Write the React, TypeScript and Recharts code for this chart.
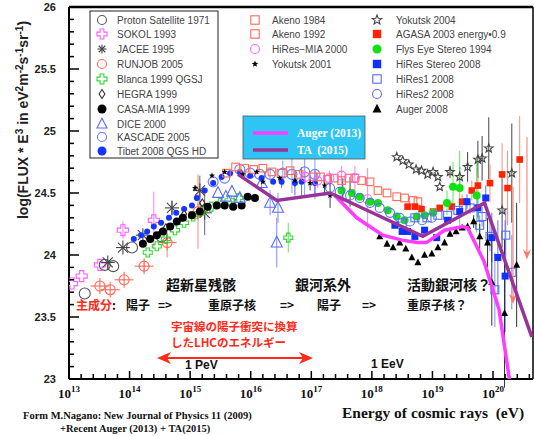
import React from 'react'
import { ScatterChart, Scatter, XAxis, YAxis, ErrorBar, ReferenceLine } from 'recharts'

// [log10(E/eV), log10(flux*E^3), error]
type P = [number, number, number?]

const decades = [13, 14, 15, 16, 17, 18, 19, 20]
const minorSteps = [0, 0.2, 0.4, 0.6, 0.8]
const yLabels = [23, 23.5, 24, 24.5, 25, 25.5, 26]

const protonSat: P[] = [[13.26, 23.69], [13.59, 23.92], [13.73, 23.91], [14.04, 24.06], [14.53, 24.15]]
const sokol: P[] = [[13.05, 23.77], [13.21, 23.83], [13.51, 23.92, 0.03], [13.89, 24.2, 0.07], [14.4, 24.28, 0.23]]
const jacee: P[] = [[13.64, 23.94], [13.89, 24.06], [14.22, 24.16], [14.7, 24.38, 0.06], [15.16, 24.52, 0.12], [15.24, 24.34, 0.18]]
const runjob: P[] = [[13.51, 23.75], [13.68, 23.72], [13.91, 23.8], [14.24, 23.91, 0.04], [14.62, 24.1, 0.12], [15.13, 24.35, 0.3]]
const blanca: P[] = [
  [14.3, 24.02], [14.45, 24.07], [14.6, 24.13], [14.75, 24.2], [14.9, 24.26], [15.05, 24.31],
  [15.2, 24.36], [15.35, 24.39], [15.5, 24.42], [15.65, 24.44], [15.8, 24.46], [16.62, 24.14, 0.12],
]
const hegra: P[] = [[14.6, 24.22], [14.9, 24.33], [15.2, 24.42]]
const casaMia: P[] = [
  [14.22, 24.09], [14.34, 24.13], [14.45, 24.16], [14.55, 24.19], [14.67, 24.23], [14.78, 24.27],
  [14.88, 24.3], [15.03, 24.32], [15.16, 24.35], [15.29, 24.39], [15.44, 24.4], [15.57, 24.4],
  [15.71, 24.39], [15.85, 24.4], [15.95, 24.47], [16.07, 24.46],
]
const dice: P[] = [
  [15.46, 24.5], [15.59, 24.47], [15.69, 24.51], [15.82, 24.46], [16.18, 24.58, 0.05],
  [16.32, 24.42, 0.1], [16.45, 24.38, 0.12], [16.43, 24.1, 0.2],
]
const kascade: P[] = [
  [15.38, 24.59], [15.57, 24.62], [15.82, 24.69], [15.99, 24.66], [16.15, 24.65], [16.32, 24.65, 0.05],
  [16.53, 24.66, 0.1], [16.68, 24.65, 0.15], [16.89, 24.67, 0.2], [17.06, 24.65, 0.2],
]
const tibet: P[] = [
  [14.07, 24.13], [14.19, 24.16], [14.29, 24.19], [14.4, 24.23], [14.52, 24.26], [14.65, 24.3],
  [14.77, 24.34], [14.9, 24.37], [15.03, 24.4], [15.11, 24.46], [15.24, 24.52], [15.38, 24.58],
  [15.52, 24.63], [15.66, 24.66], [15.82, 24.67], [15.99, 24.64], [16.18, 24.62], [16.37, 24.59],
  [16.51, 24.59, 0.05], [16.73, 24.58, 0.1], [16.84, 24.59, 0.12], [17.06, 24.58, 0.1],
]
const akeno84: P[] = [
  [15.6, 24.66], [15.75, 24.71], [15.9, 24.7], [16.05, 24.69], [16.2, 24.7], [16.35, 24.67],
  [16.5, 24.66], [16.65, 24.68], [16.8, 24.65],
]
const akeno92: P[] = [
  [17.03, 24.63], [17.15, 24.63], [17.27, 24.61], [17.38, 24.62], [17.5, 24.6], [17.62, 24.62],
  [17.72, 24.62], [17.83, 24.6], [17.97, 24.59], [18.1, 24.52], [18.25, 24.5], [18.41, 24.47],
  [18.54, 24.46], [18.68, 24.44], [18.76, 24.43],
]
const hiresMia: P[] = [[16.9, 24.63, 0.05], [17.1, 24.6, 0.06], [17.3, 24.62, 0.06], [17.5, 24.64, 0.08], [17.72, 24.62, 0.1], [17.93, 24.45, 0.25]]
const yakutsk01: P[] = [
  [15.08, 24.54], [15.36, 24.64], [15.57, 24.67], [15.87, 24.65], [16.1, 24.67], [16.2, 24.59],
  [16.48, 24.62], [16.73, 24.6, 0.05], [16.98, 24.58, 0.06], [17.22, 24.56, 0.08], [17.31, 24.48, 0.1],
  [17.52, 24.52, 0.1], [17.64, 24.51, 0.12],
]
const yakutsk04: P[] = [
  [18.41, 24.79], [18.51, 24.76], [18.61, 24.73], [18.73, 24.69], [18.82, 24.68], [18.92, 24.65],
  [19.01, 24.67], [19.09, 24.63], [19.12, 24.55], [19.29, 24.67, 0.05], [19.45, 24.63, 0.08],
  [19.58, 24.71, 0.12], [19.75, 24.77, 0.15], [19.82, 24.78, 0.18], [19.93, 24.86, 0.25],
  [20.15, 24.36, 0.3], [20.31, 24.66, 0.4],
]
const agasa: P[] = [
  [18.59, 24.39], [18.71, 24.39], [18.82, 24.37], [19.01, 24.35], [19.12, 24.38], [19.32, 24.39, 0.04],
  [19.49, 24.43, 0.06], [19.65, 24.52, 0.08], [19.75, 24.56, 0.1], [19.95, 24.58, 0.15],
  [20.15, 24.65, 0.25], [20.24, 24.54, 0.3], [20.44, 24.77, 0.35],
]
const agasaLimitA: P[] = [[20.56, 24.95], [20.56, 23.98]]
const agasaLimitB: P[] = [[20.33, 24.55], [20.33, 23.62]]
const agasaLimitTips: P[] = [[20.56, 23.98], [20.33, 23.62]]
const flysEye: P[] = [
  [17.5, 24.52], [17.67, 24.5], [17.8, 24.47], [17.97, 24.43], [18.1, 24.42], [18.26, 24.36],
  [18.41, 24.31], [18.54, 24.28], [18.74, 24.31], [18.87, 24.32], [19.01, 24.34], [19.24, 24.42, 0.1],
  [19.34, 24.55, 0.2], [19.45, 24.54, 0.3], [19.73, 24.48, 0.3],
]
const hiresStereo: P[] = [
  [18.38, 24.24], [18.5, 24.19], [18.59, 24.19], [18.71, 24.15], [18.87, 24.2], [19.07, 24.14],
  [19.25, 24.28], [19.45, 24.35, 0.05], [19.57, 24.43, 0.06], [19.75, 24.38, 0.08], [19.88, 24.46, 0.1],
  [19.98, 24.14, 0.2], [20.08, 23.98, 0.3], [20.2, 23.83, 0.45],
]
const hires1: P[] = [
  [18.5, 24.26], [18.71, 24.3], [18.91, 24.3], [19.09, 24.32], [19.25, 24.32], [19.42, 24.36],
  [19.62, 24.38, 0.05], [19.82, 24.31, 0.08], [19.78, 24.24, 0.08], [19.95, 24.15, 0.12],
  [20.21, 24.16, 0.2], [20.31, 23.86, 0.3], [20.03, 23.72, 0.3],
]
const hires2: P[] = [
  [17.31, 24.54], [17.47, 24.51], [17.64, 24.48], [17.8, 24.46], [17.97, 24.42], [18.13, 24.38],
  [18.3, 24.34], [18.46, 24.3], [18.63, 24.27], [18.83, 24.28], [18.99, 24.3],
]
const auger08: P[] = [
  [18.13, 24.15], [18.25, 24.09], [18.35, 24.06], [18.46, 24.1], [18.56, 24.05], [18.66, 23.98],
  [18.76, 23.94], [18.87, 24.0], [18.99, 24.01], [19.09, 24.06], [19.2, 24.1], [19.29, 24.17],
  [19.39, 24.19], [19.49, 24.22], [19.58, 24.23], [19.68, 24.27, 0.05], [19.78, 24.15, 0.1],
  [19.91, 24.1, 0.2], [19.98, 23.78, 0.35], [20.19, 23.53, 0.6], [20.39, 23.92, 0.5],
]
const auger13: P[] = [
  [17.39, 24.48], [17.75, 24.3], [18.18, 24.16], [18.5, 24.12], [18.75, 24.1], [18.9, 24.1],
  [19.2, 24.2], [19.5, 24.23], [19.58, 24.22], [19.85, 23.95], [20.1, 23.56], [20.27, 23.0],
]
const ta15: P[] = [[15.79, 24.65], [16.43, 24.44], [17.31, 24.5], [18.84, 24.15], [19.86, 24.42], [20.64, 23.34]]

const toPts = (arr: P[]) => arr.map(([e, f, d]) => ({ e, f, d: d ?? 0 }))

type Kind = 'circle' | 'dot' | 'square' | 'fsquare' | 'tri' | 'ftri' | 'diamond' | 'plus' | 'aster' | 'star' | 'fstar' | 'runjob' | 'none' | 'arrowTip'

function Mark({ cx, cy, kind, color, s }: { cx: number; cy: number; kind: Kind; color: string; s: number }) {
  const sw = 1.1
  if (cx == null || cy == null) return <g />
  switch (kind) {
    case 'circle':
      return <circle cx={cx} cy={cy} r={s} fill="none" stroke={color} strokeWidth={sw} />
    case 'dot':
      return <circle cx={cx} cy={cy} r={s} fill={color} />
    case 'square':
      return <rect x={cx - s} y={cy - s} width={2 * s} height={2 * s} fill="none" stroke={color} strokeWidth={sw} />
    case 'fsquare':
      return <rect x={cx - s} y={cy - s} width={2 * s} height={2 * s} fill={color} />
    case 'tri':
    case 'ftri': {
      const pts = `${cx},${cy - s * 1.15} ${cx - s},${cy + s * 0.8} ${cx + s},${cy + s * 0.8}`
      return kind === 'tri'
        ? <polygon points={pts} fill="none" stroke={color} strokeWidth={sw} />
        : <polygon points={pts} fill={color} />
    }
    case 'diamond':
      return <polygon points={`${cx},${cy - s} ${cx + s * 0.65},${cy} ${cx},${cy + s} ${cx - s * 0.65},${cy}`} fill="none" stroke={color} strokeWidth={sw} />
    case 'plus': {
      const a = s * 0.38
      const pts = [
        [cx - a, cy - s], [cx + a, cy - s], [cx + a, cy - a], [cx + s, cy - a], [cx + s, cy + a], [cx + a, cy + a],
        [cx + a, cy + s], [cx - a, cy + s], [cx - a, cy + a], [cx - s, cy + a], [cx - s, cy - a], [cx - a, cy - a],
      ].map((p) => p.join(',')).join(' ')
      return <polygon points={pts} fill="none" stroke={color} strokeWidth={sw} />
    }
    case 'aster': {
      const k = s * 0.72
      return (
        <g stroke={color} strokeWidth={sw}>
          <line x1={cx - s} y1={cy} x2={cx + s} y2={cy} />
          <line x1={cx} y1={cy - s} x2={cx} y2={cy + s} />
          <line x1={cx - k} y1={cy - k} x2={cx + k} y2={cy + k} />
          <line x1={cx - k} y1={cy + k} x2={cx + k} y2={cy - k} />
        </g>
      )
    }
    case 'star':
    case 'fstar': {
      const pts: string[] = []
      for (let i = 0; i < 10; i++) {
        const r = i % 2 === 0 ? s : s * 0.42
        const a = -Math.PI / 2 + (i * Math.PI) / 5
        pts.push(`${cx + r * Math.cos(a)},${cy + r * Math.sin(a)}`)
      }
      return kind === 'star'
        ? <polygon points={pts.join(' ')} fill="none" stroke={color} strokeWidth={sw} />
        : <polygon points={pts.join(' ')} fill={color} />
    }
    case 'runjob':
      return (
        <g stroke={color} strokeWidth={sw} fill="none">
          <circle cx={cx} cy={cy} r={s} />
          <line x1={cx - s * 1.9} y1={cy} x2={cx + s * 1.9} y2={cy} />
          <line x1={cx} y1={cy - s * 1.6} x2={cx} y2={cy + s * 1.6} />
        </g>
      )
    case 'arrowTip':
      return <polygon points={`${cx},${cy + 2} ${cx - 4},${cy - 8} ${cx},${cy - 5} ${cx + 4},${cy - 8}`} fill={color} />
    default:
      return <g />
  }
}

interface SeriesDef {
  name: string
  data: P[]
  kind: Kind
  color: string
  s: number
  err?: string
}

const series: SeriesDef[] = [
  { name: 'RUNJOB 2005', data: runjob, kind: 'runjob', color: '#ff6a5a', s: 5, err: '#ff8a7a' },
  { name: 'SOKOL 1993', data: sokol, kind: 'plus', color: '#ff5cff', s: 5.5, err: '#ff7cff' },
  { name: 'Proton Satellite 1971', data: protonSat, kind: 'circle', color: '#555', s: 5.5 },
  { name: 'JACEE 1995', data: jacee, kind: 'aster', color: '#444', s: 7, err: '#666' },
  { name: 'Blanca 1999 QGSJ', data: blanca, kind: 'plus', color: '#2fd82f', s: 4.5, err: '#5fe85f' },
  { name: 'HEGRA 1999', data: hegra, kind: 'diamond', color: '#333', s: 4 },
  { name: 'CASA-MIA 1999', data: casaMia, kind: 'dot', color: '#000', s: 4 },
  { name: 'DICE 2000', data: dice, kind: 'tri', color: '#5a6cff', s: 5.5, err: '#7a8cff' },
  { name: 'KASCADE 2005', data: kascade, kind: 'circle', color: '#6a7cff', s: 5, err: '#8a9cff' },
  { name: 'Tibet 2008 QGS HD', data: tibet, kind: 'dot', color: '#1535ff', s: 3, err: '#5a6cff' },
  { name: 'Akeno 1984', data: akeno84, kind: 'square', color: '#ff6a5a', s: 3.8 },
  { name: 'Akeno 1992', data: akeno92, kind: 'square', color: '#ff6a5a', s: 3.8 },
  { name: 'HiRes-MIA 2000', data: hiresMia, kind: 'circle', color: '#ff66ff', s: 4.5, err: '#ff7cff' },
  { name: 'Yakutsk 2001', data: yakutsk01, kind: 'fstar', color: '#000', s: 3.2, err: '#444' },
  { name: 'Yakutsk 2004', data: yakutsk04, kind: 'star', color: '#444', s: 4.5, err: '#444' },
  { name: 'AGASA 2003', data: agasa, kind: 'fsquare', color: '#ff2200', s: 3.3, err: '#ff8a7a' },
  { name: 'Flys Eye Stereo 1994', data: flysEye, kind: 'dot', color: '#11e011', s: 4, err: '#55ee55' },
  { name: 'HiRes2 2008', data: hires2, kind: 'circle', color: '#5a6cff', s: 4.5 },
  { name: 'HiRes1 2008', data: hires1, kind: 'square', color: '#5a6cff', s: 4, err: '#7a8cff' },
  { name: 'HiRes Stereo 2008', data: hiresStereo, kind: 'fsquare', color: '#1030ff', s: 3.5, err: '#5a6cff' },
  { name: 'Auger 2008', data: auger08, kind: 'ftri', color: '#000', s: 3.5, err: '#333' },
]

const xTicks = decades.flatMap((d) => minorSteps.map((f) => +(d + f).toFixed(1))).filter((v) => v <= 20.66)
const yTicks = Array.from({ length: 31 }, (_, i) => +(23 + i * 0.1).toFixed(1))

const XTick = (p: any) => {
  const { x, y, payload } = p
  const v = payload.value
  const major = Math.abs(v - Math.round(v)) < 0.01
  return (
    <g>
      <line x1={x} x2={x} y1={y} y2={y - (major ? 8 : 5)} stroke="#000" strokeWidth={1.5} />
      {major && (
        <text x={x} y={y + 19} textAnchor="middle" fontFamily="'Liberation Serif', serif" fontWeight="bold" fontSize={13} fill="#111">
          10<tspan dy={-6} fontSize={9}>{Math.round(v)}</tspan>
        </text>
      )}
    </g>
  )
}

const YTick = (p: any) => {
  const { x, y, payload } = p
  const v = payload.value
  const major = yLabels.some((l) => Math.abs(l - v) < 0.01)
  return (
    <g>
      <line x1={x} x2={x + (major ? 10 : 5)} y1={y} y2={y} stroke="#000" strokeWidth={1.5} />
      {major && (
        <text x={x - 13} y={y + 4} textAnchor="end" fontFamily="'Liberation Sans', Arial, sans-serif" fontWeight="bold" fontSize={11} fill="#222">
          {Number.isInteger(v) ? String(v) : v.toFixed(1)}
        </text>
      )}
    </g>
  )
}

const legendBox = [
  { name: 'Proton Satellite 1971', kind: 'circle', color: '#555', s: 4.5 },
  { name: 'SOKOL 1993', kind: 'plus', color: '#ff5cff', s: 5 },
  { name: 'JACEE 1995', kind: 'aster', color: '#444', s: 4.5 },
  { name: 'RUNJOB 2005', kind: 'circle', color: '#ff6a5a', s: 4.5 },
  { name: 'Blanca 1999 QGSJ', kind: 'plus', color: '#2fd82f', s: 5 },
  { name: 'HEGRA 1999', kind: 'diamond', color: '#333', s: 4.5 },
  { name: 'CASA-MIA 1999', kind: 'dot', color: '#000', s: 4.5 },
  { name: 'DICE 2000', kind: 'tri', color: '#5a6cff', s: 5 },
  { name: 'KASCADE 2005', kind: 'circle', color: '#6a7cff', s: 4.5 },
  { name: 'Tibet 2008 QGS HD', kind: 'dot', color: '#1535ff', s: 4.5 },
]
const legendMid = [
  { name: 'Akeno 1984', kind: 'square', color: '#ff6a5a', s: 4.2 },
  { name: 'Akeno 1992', kind: 'square', color: '#ff6a5a', s: 4.2 },
  { name: 'HiRes\u2212MIA 2000', kind: 'circle', color: '#ff66ff', s: 4.5 },
  { name: 'Yokutsk 2001', kind: 'fstar', color: '#000', s: 3.5 },
]
const legendRight = [
  { name: 'Yokutsk 2004', kind: 'star', color: '#444', s: 5 },
  { name: 'AGASA 2003  energy\u20220.9', kind: 'fsquare', color: '#ff2200', s: 4.2 },
  { name: 'Flys Eye Stereo 1994', kind: 'dot', color: '#11e011', s: 4.5 },
  { name: 'HiRes Stereo 2008', kind: 'fsquare', color: '#1030ff', s: 4.2 },
  { name: 'HiRes1 2008', kind: 'square', color: '#5a6cff', s: 4.2 },
  { name: 'HiRes2 2008', kind: 'circle', color: '#5a6cff', s: 4.5 },
  { name: 'Auger 2008', kind: 'ftri', color: '#000', s: 4.5 },
]
const boxRows = [20, 34, 49, 64, 79, 94, 109, 124, 137, 151]
const sideRows = [20, 34, 49, 64, 79, 94, 109]

const legendFont = "'Liberation Sans', Arial, sans-serif"
const jpFont = "'Noto Sans CJK JP', sans-serif"
const serif = "'Liberation Serif', 'Times New Roman', serif"

export default function App() {
  return (
    <div style={{ position: 'absolute', left: 0, top: 0, width: 534, height: 436, background: '#fff' }}>
      <ScatterChart width={534} height={436} margin={{ top: 7, right: 1, bottom: 27, left: 9 }}>
        <XAxis
          type="number"
          dataKey="e"
          domain={[13, 20.66]}
          allowDataOverflow
          ticks={xTicks}
          interval={0}
          tick={(p: any) => <XTick {...p} />}
          tickLine={false}
          tickSize={0}
          tickMargin={0}
          axisLine={{ stroke: '#000', strokeWidth: 2 }}
          height={30}
        />
        <YAxis
          type="number"
          dataKey="f"
          domain={[23, 26]}
          allowDataOverflow
          ticks={yTicks}
          interval={0}
          tick={(p: any) => <YTick {...p} />}
          tickLine={false}
          tickSize={0}
          tickMargin={0}
          axisLine={{ stroke: '#000', strokeWidth: 2 }}
          width={60}
        />
        <ReferenceLine y={26} stroke="#000" strokeWidth={2.5} />
        <ReferenceLine x={20.66} stroke="#000" strokeWidth={1.5} />
        {series.map((sr) => (
          <Scatter
            key={sr.name}
            name={sr.name}
            data={toPts(sr.data)}
            isAnimationActive={false}
            shape={(p: any) => <Mark cx={p.cx} cy={p.cy} kind={sr.kind} color={sr.color} s={sr.s} />}
          >
            {sr.err && <ErrorBar dataKey="d" direction="y" width={0} stroke={sr.err} strokeWidth={1} />}
          </Scatter>
        ))}
        <Scatter data={toPts(agasaLimitA)} line={{ stroke: '#ff8a7a', strokeWidth: 1.2 }} lineJointType="linear" shape={() => <g />} isAnimationActive={false} />
        <Scatter data={toPts(agasaLimitB)} line={{ stroke: '#ff8a7a', strokeWidth: 1.2 }} lineJointType="linear" shape={() => <g />} isAnimationActive={false} />
        <Scatter
          data={toPts(agasaLimitTips)}
          isAnimationActive={false}
          shape={(p: any) => <Mark cx={p.cx} cy={p.cy} kind="arrowTip" color="#ff7a6a" s={4} />}
        />
        <Scatter name="Auger (2013)" data={toPts(auger13)} line={{ stroke: '#ff3cff', strokeWidth: 3.5 }} lineJointType="linear" shape={() => <g />} isAnimationActive={false} />
        <Scatter name="TA (2015)" data={toPts(ta15)} line={{ stroke: '#993399', strokeWidth: 3.5 }} lineJointType="linear" shape={() => <g />} isAnimationActive={false} />
      </ScatterChart>

      <svg width={534} height={436} style={{ position: 'absolute', left: 0, top: 0, pointerEvents: 'none' }}>
        {/* y axis title */}
        <text transform="translate(28,120) rotate(-90)" textAnchor="middle" fontFamily={legendFont} fontWeight="bold" fontSize={14} fill="#222">
          log(FLUX * E<tspan dy={-5} fontSize={10}>3</tspan>
          <tspan dy={5}> in eV</tspan><tspan dy={-5} fontSize={10}>2</tspan>
          <tspan dy={5}>m</tspan><tspan dy={-5} fontSize={10}>-2</tspan>
          <tspan dy={5}>s</tspan><tspan dy={-5} fontSize={10}>-1</tspan>
          <tspan dy={5}>sr</tspan><tspan dy={-5} fontSize={10}>-1</tspan>
          <tspan dy={5}>)</tspan>
        </text>

        {/* boxed legend */}
        <rect x={90} y={11} width={128} height={147} fill="#fff" stroke="#222" strokeWidth={1} />
        {legendBox.map((l, i) => (
          <g key={l.name}>
            <Mark cx={102} cy={boxRows[i]} kind={l.kind as Kind} color={l.color} s={l.s} />
            <text x={117} y={boxRows[i] + 3.5} fontFamily={legendFont} fontSize={10} fill="#444">{l.name}</text>
          </g>
        ))}
        {legendMid.map((l, i) => (
          <g key={l.name}>
            <Mark cx={255} cy={sideRows[i]} kind={l.kind as Kind} color={l.color} s={l.s} />
            <text x={272} y={sideRows[i] + 3.5} fontFamily={legendFont} fontSize={10} fill="#444">{l.name}</text>
          </g>
        ))}
        {legendRight.map((l, i) => (
          <g key={l.name}>
            <Mark cx={377} cy={sideRows[i]} kind={l.kind as Kind} color={l.color} s={l.s} />
            <text x={396} y={sideRows[i] + 3.5} fontFamily={legendFont} fontSize={10} fill="#444">{l.name}</text>
          </g>
        ))}

        {/* Auger / TA legend */}
        <rect x={243} y={116} width={122} height={43} fill="#2ec4f4" stroke="#555" strokeWidth={0.8} />
        <line x1={253} x2={288} y1={133} y2={133} stroke="#ff3cff" strokeWidth={3.5} />
        <line x1={253} x2={288} y1={150} y2={150} stroke="#993399" strokeWidth={3.5} />
        <text x={297} y={137} fontFamily={serif} fontWeight="bold" fontSize={11.5} fill="#fff">Auger (2013)</text>
        <text x={297} y={154} fontFamily={serif} fontWeight="bold" fontSize={11.5} fill="#fff" style={{ whiteSpace: 'pre' }}>TA  (2015)</text>

        {/* annotations */}
        <g fontFamily={jpFont} fontWeight="bold" fontSize={14} fill="#111">
          <text x={166} y={290}>超新星残骸</text>
          <text x={295} y={290}>銀河系外</text>
          <text x={407} y={290}>活動銀河核？</text>
        </g>
        <g fontFamily={jpFont} fontWeight="bold" fontSize={12} fill="#111">
          <text x={76} y={310} fill="#ff2a1a">主成分<tspan fill="#111">:</tspan></text>
          <text x={126} y={310}>陽子</text>
          <text x={158} y={310}>=&gt;</text>
          <text x={208} y={310}>重原子核</text>
          <text x={280} y={310}>=&gt;</text>
          <text x={317} y={310}>陽子</text>
          <text x={362} y={310}>=&gt;</text>
          <text x={407} y={310}>重原子核？</text>
        </g>
        <g fontFamily={jpFont} fontWeight="bold" fontSize={11.5} fill="#ff2a1a">
          <text x={171} y={331}>宇宙線の陽子衝突に換算</text>
          <text x={171} y={347}>したLHCのエネルギー</text>
        </g>
        <line x1={166} x2={304} y1={358} y2={358} stroke="#ff2a1a" strokeWidth={2} />
        <polygon points="157,358 171,352 167,358 171,364" fill="#ff2a1a" />
        <polygon points="313,358 299,352 303,358 299,364" fill="#ff2a1a" />
        <text x={185} y={369} fontFamily={legendFont} fontWeight="bold" fontSize={12} fill="#111">1 PeV</text>
        <text x={371} y={368} fontFamily={legendFont} fontWeight="bold" fontSize={12} fill="#111">1 EeV</text>

        {/* footer */}
        <text x={23} y={419} fontFamily={serif} fontWeight="bold" fontSize={10.5} fill="#111">Form M.Nagano: New Journal of Physics 11 (2009)</text>
        <text x={60} y={432} fontFamily={serif} fontWeight="bold" fontSize={10.5} fill="#111">+Recent Auger (2013) + TA(2015)</text>
        <text x={342} y={418} fontFamily={serif} fontWeight="bold" fontSize={15.5} fill="#111" style={{ whiteSpace: 'pre' }}>Energy of cosmic rays  (eV)</text>
      </svg>
    </div>
  )
}
